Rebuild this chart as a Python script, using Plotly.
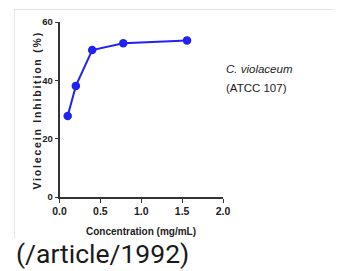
import plotly.graph_objects as go

concentration = [0.1, 0.2, 0.4, 0.78, 1.56]
inhibition = [27.8, 38.1, 50.4, 52.7, 53.7]
x_ticks = [0.0, 0.5, 1.0, 1.5, 2.0]
x_tick_labels = ["0.0", "0.5", "1.0", "1.5", "2.0"]
y_ticks = [0, 20, 40, 60]
y_title = "Violecein Inhibition (%)"
x_title = "Concentration (mg/mL)"
legend_lines = ["<i>C. violaceum</i>", "(ATCC 107)"]
caption = "(/article/1992)"

OFF = 8  # default page body margin
W, H = 342 - OFF, 271 - OFF


def px(x):
    return (x - OFF) / W


def py(y):
    return (H - (y - OFF)) / H


NARROW = "Liberation Sans Narrow, Arial Narrow, Liberation Sans"
fig = go.Figure()
fig.add_trace(go.Scatter(
    x=concentration, y=inhibition, mode="lines+markers",
    line=dict(color="#2222f2", width=2),
    marker=dict(color="#2222f2", size=8.5),
    showlegend=False, hoverinfo="skip"))

fig.update_layout(
    width=W, height=H, margin=dict(l=0, r=0, t=0, b=0, pad=0),
    paper_bgcolor="white", plot_bgcolor="white",
    font=dict(family="Liberation Sans", color="#222"),
    xaxis=dict(domain=[px(59.5), px(223)], range=[0, 2.0], tickvals=x_ticks,
               ticktext=x_tick_labels, showgrid=False, zeroline=False,
               showline=True, linecolor="#333", linewidth=1.5,
               ticks="outside", ticklen=4, tickcolor="#333", tickwidth=1.2,
               tickfont=dict(size=10.5, family=NARROW, color="#222", weight="bold"),
               automargin=False, fixedrange=True),
    yaxis=dict(domain=[py(197), py(22)], range=[0, 60], tickvals=y_ticks,
               showgrid=False, zeroline=False, showline=True, linecolor="#333",
               linewidth=1.5, ticks="outside", ticklen=3, tickcolor="#333", tickwidth=1.2,
               tickfont=dict(size=9.5, family=NARROW, color="#222", weight="bold"),
               automargin=False, fixedrange=True),
)

# axis titles
fig.add_annotation(xref="paper", yref="paper", x=px(36.5), y=py(110),
                   text='<span style="letter-spacing:1.8px">' + y_title + '</span>',
                   textangle=-90, showarrow=False, xanchor="center", yanchor="middle",
                   font=dict(size=10.5, family="Liberation Sans", color="#222", weight="bold"))
fig.add_annotation(xref="paper", yref="paper", x=px(141), y=py(231.5),
                   text=x_title, showarrow=False, xanchor="center", yanchor="middle",
                   font=dict(size=10, family=NARROW, color="#222", weight="bold"))

af = dict(size=11.5, family=NARROW, color="#222")
fig.add_annotation(xref="paper", yref="paper", x=px(224), y=py(68.5),
                   text=legend_lines[0], showarrow=False, xanchor="left",
                   yanchor="middle", font=af)
fig.add_annotation(xref="paper", yref="paper", x=px(224), y=py(87.5),
                   text=legend_lines[1], showarrow=False, xanchor="left",
                   yanchor="middle", font=af)
fig.add_annotation(xref="paper", yref="paper", x=px(14), y=py(253),
                   text=caption, showarrow=False, xanchor="left",
                   yanchor="middle", font=dict(size=26.5, family="Roboto", color="#1a1a1a"))

# light frame of the embedded image
fig.add_shape(type="line", xref="paper", yref="paper", x0=px(14), x1=1, y0=py(9.5), y1=py(9.5),
              line=dict(color="#e6e6e6", width=1))
fig.add_shape(type="line", xref="paper", yref="paper", x0=px(14.5), x1=px(14.5), y0=py(9.5), y1=py(238),
              line=dict(color="#e6e6e6", width=1))

fig.write_html("out.html")
